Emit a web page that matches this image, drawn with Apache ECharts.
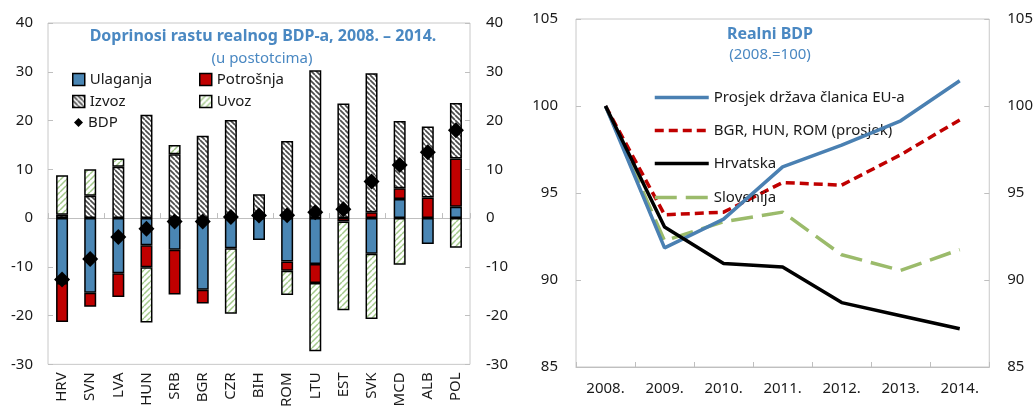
<!DOCTYPE html>
<html><head><meta charset="utf-8">
<script src="https://cdn.jsdelivr.net/npm/echarts@6/dist/echarts.min.js"></script>
<style>html,body{margin:0;padding:0;background:#fff}#c{width:1036px;height:410px}</style>
</head><body><div id="c"></div>
<script>
// ---- Left chart data ----
const countries = ['HRV','SVN','LVA','HUN','SRB','BGR','CZR','BIH','ROM','LTU','EST','SVK','MCD','ALB','POL'];
const ulaganja  = [-13.3,-15.3,-11.3,-5.6,-6.5,-14.7,-6.2,-4.5,-8.9,-9.4,0,-7.3,3.9,-5.3,2.3];
const potrosnja = [-8.0,-2.9,-4.9,-4.5,-9.2,-2.8,0,0,-1.9,-3.9,-0.7,1.2,2.2,4.2,9.9];
const izvoz     = [0.7,4.6,10.5,21.2,13.1,16.9,20.1,4.9,15.8,30.3,23.5,28.5,13.8,14.6,11.4];
const uvoz      = [8.1,5.4,1.7,-11.3,1.9,0,-13.4,0,-5.0,-14.0,-18.2,-13.4,-9.6,0,-6.1];
const bdp       = [-12.6,-8.4,-3.9,-2.2,-0.7,-0.7,0.2,0.5,0.6,1.2,1.8,7.5,10.9,13.5,18.0];
const leftTicks = {min:-30, max:40, interval:10};

// ---- Right chart data ----
const years = ['2008.','2009.','2010.','2011.','2012.','2013.','2014.'];
const euAvg   = [100,91.85,93.5,96.5,97.75,99.15,101.45];
const bhrAvg  = [100,93.75,93.9,95.6,95.45,97.2,99.2];
const hrvatska= [100,93.05,90.95,90.75,88.7,87.95,87.2];
const slovenija=[100,92.25,93.35,93.9,91.45,90.55,91.75];
const rightTicks = {min:85, max:105, interval:5};

const FONT = '"Noto Sans", "Open Sans", sans-serif';
const TITLE_BLUE = '#4a88c2';

function hatch(bg, fg, dir, size, lw) {
  const c = document.createElement('canvas');
  c.width = size; c.height = size;
  const g = c.getContext('2d');
  g.fillStyle = bg; g.fillRect(0,0,size,size);
  g.strokeStyle = fg; g.lineWidth = lw;
  g.beginPath();
  for (const o of [-size, 0, size]) {
    if (dir === '/') { g.moveTo(o, size); g.lineTo(o + size, 0); }
    else { g.moveTo(o, 0); g.lineTo(o + size, size); }
  }
  g.stroke();
  return c;
}
const izvozPat = {image: hatch('#ffffff', '#4d4d4d', '\\', 5, 1.7), repeat: 'repeat'};
const uvozPat  = {image: hatch('#ffffff', '#a3c98a', '/', 6, 1.5), repeat: 'repeat'};

const nz = a => a.map(v => v === 0 ? '-' : v);

function barSeries(name, data, color) {
  return {
    name, type: 'bar', stack: 'a', xAxisIndex: 0, yAxisIndex: 0,
    barWidth: 12, data: nz(data),
    itemStyle: {color, borderColor: '#000', borderWidth: 1.5},
    emphasis: {disabled: true}
  };
}

const axisLbl = {fontFamily: FONT, fontSize: 15, color: '#1a1a1a'};
const grayLine = {color: '#bfbfbf', width: 1};

function legendItem(name, left, top, opts) {
  return Object.assign({
    data: [name], left, top, itemWidth: 12, itemHeight: 12, icon: 'rect',
    textStyle: {fontFamily: FONT, fontSize: 15, color: '#1a1a1a'},
    itemStyle: {borderColor: '#000', borderWidth: 1.5},
    selectedMode: false, padding: 0, itemGap: 0
  }, opts || {});
}
const lineLegend = {itemWidth: 54, itemHeight: 14, icon: null, itemStyle: {opacity: 0}, lineStyle: {width: 3.5}};

const option = {
  animation: false,
  backgroundColor: '#fff',
  grid: [
    {left: 48, right: 566, top: 23, bottom: 43, show: true, borderColor: '#c8c8c8', borderWidth: 1},
    {left: 576, right: 44, top: 19, bottom: 43, show: true, borderColor: '#c8c8c8', borderWidth: 1}
  ],
  xAxis: [
    {gridIndex: 0, type: 'category', data: countries, position: 'bottom',
     axisLine: {show: false, onZero: false}, axisTick: {show: false},
     axisLabel: Object.assign({rotate: 90, margin: 8, interval: 0}, axisLbl)},
    {gridIndex: 0, type: 'category', data: countries, position: 'bottom',
     axisLine: {show: true, onZero: true, lineStyle: grayLine},
     axisTick: {show: true, inside: true, length: 5, lineStyle: grayLine},
     axisLabel: {show: false}},
    {gridIndex: 1, type: 'category', data: years, boundaryGap: true,
     axisLine: {lineStyle: grayLine},
     axisTick: {show: true, inside: true, length: 5, lineStyle: grayLine},
     axisLabel: Object.assign({margin: 14}, axisLbl)}
  ],
  yAxis: [
    Object.assign({gridIndex: 0, type: 'value', position: 'left',
     axisLine: {show: false}, axisTick: {show: true, inside: true, length: 5, lineStyle: grayLine},
     splitLine: {show: false}, axisLabel: Object.assign({margin: 15}, axisLbl)}, leftTicks),
    Object.assign({gridIndex: 0, type: 'value', position: 'right',
     axisLine: {show: false}, axisTick: {show: true, inside: true, length: 5, lineStyle: grayLine},
     splitLine: {show: false}, axisLabel: Object.assign({margin: 16}, axisLbl)}, leftTicks),
    Object.assign({gridIndex: 1, type: 'value', position: 'left',
     axisLine: {show: false}, axisTick: {show: true, inside: true, length: 5, lineStyle: grayLine},
     splitLine: {show: false}, axisLabel: Object.assign({margin: 18}, axisLbl)}, rightTicks),
    Object.assign({gridIndex: 1, type: 'value', position: 'right',
     axisLine: {show: false}, axisTick: {show: true, inside: true, length: 5, lineStyle: grayLine},
     splitLine: {show: false}, axisLabel: Object.assign({margin: 18}, axisLbl)}, rightTicks)
  ],
  legend: [
    legendItem('Ulaganja', 72, 72),
    legendItem('Potrošnja', 199, 72),
    legendItem('Izvoz', 72, 94),
    legendItem('Uvoz', 199, 94),
    legendItem('BDP', 74, 115, {icon: 'diamond', itemWidth: 9, itemHeight: 9, itemStyle: {color: '#000', opacity: 1, borderWidth: 0}}),
    legendItem('Prosjek država članica EU-a', 653, 90, lineLegend),
    legendItem('BGR, HUN, ROM (prosjek)', 653, 123, lineLegend),
    legendItem('Hrvatska', 653, 156, lineLegend),
    legendItem('Slovenija', 653, 190, lineLegend)
  ],
  graphic: [
    {type: 'text', x: 263, y: 36, style: {text: 'Doprinosi rastu realnog BDP-a, 2008. – 2014.', align: 'center', verticalAlign: 'middle', fontFamily: FONT, fontSize: 16, fontWeight: 'bold', fill: TITLE_BLUE}},
    {type: 'text', x: 262, y: 59, style: {text: '(u postotcima)', align: 'center', verticalAlign: 'middle', fontFamily: FONT, fontSize: 15, fill: TITLE_BLUE}},
    {type: 'text', x: 770, y: 34, style: {text: 'Realni BDP', align: 'center', verticalAlign: 'middle', fontFamily: FONT, fontSize: 16, fontWeight: 'bold', fill: TITLE_BLUE}},
    {type: 'text', x: 770, y: 55, style: {text: '(2008.=100)', align: 'center', verticalAlign: 'middle', fontFamily: FONT, fontSize: 15, fill: TITLE_BLUE}}
  ],
  series: [
    barSeries('Ulaganja', ulaganja, '#4a86b4'),
    barSeries('Potrošnja', potrosnja, '#c00000'),
    barSeries('Izvoz', izvoz, izvozPat),
    barSeries('Uvoz', uvoz, uvozPat),
    {name: 'BDP', type: 'scatter', xAxisIndex: 0, yAxisIndex: 0, data: bdp,
     symbol: 'diamond', symbolSize: 16, itemStyle: {color: '#000', opacity: 1}, z: 10},
    {name: 'Prosjek država članica EU-a', type: 'line', xAxisIndex: 2, yAxisIndex: 2, data: euAvg,
     symbol: 'none', lineStyle: {color: '#4a80b2', width: 3.5}, itemStyle: {color: '#4a80b2'}, z: 4},
    {name: 'BGR, HUN, ROM (prosjek)', type: 'line', xAxisIndex: 2, yAxisIndex: 2, data: bhrAvg,
     symbol: 'none', lineStyle: {color: '#c00000', width: 3.5, type: [9, 5]}, itemStyle: {color: '#c00000'}, z: 3},
    {name: 'Hrvatska', type: 'line', xAxisIndex: 2, yAxisIndex: 2, data: hrvatska,
     symbol: 'none', lineStyle: {color: '#000', width: 3.5}, itemStyle: {color: '#000'}, z: 5},
    {name: 'Slovenija', type: 'line', xAxisIndex: 2, yAxisIndex: 2, data: slovenija,
     symbol: 'none', lineStyle: {color: '#9bbb6b', width: 3.5, type: [22, 9]}, itemStyle: {color: '#9bbb6b'}, z: 2}
  ]
};

const chart = echarts.init(document.getElementById('c'), null, {renderer: 'canvas'});
chart.setOption(option);
</script>
</body></html>
